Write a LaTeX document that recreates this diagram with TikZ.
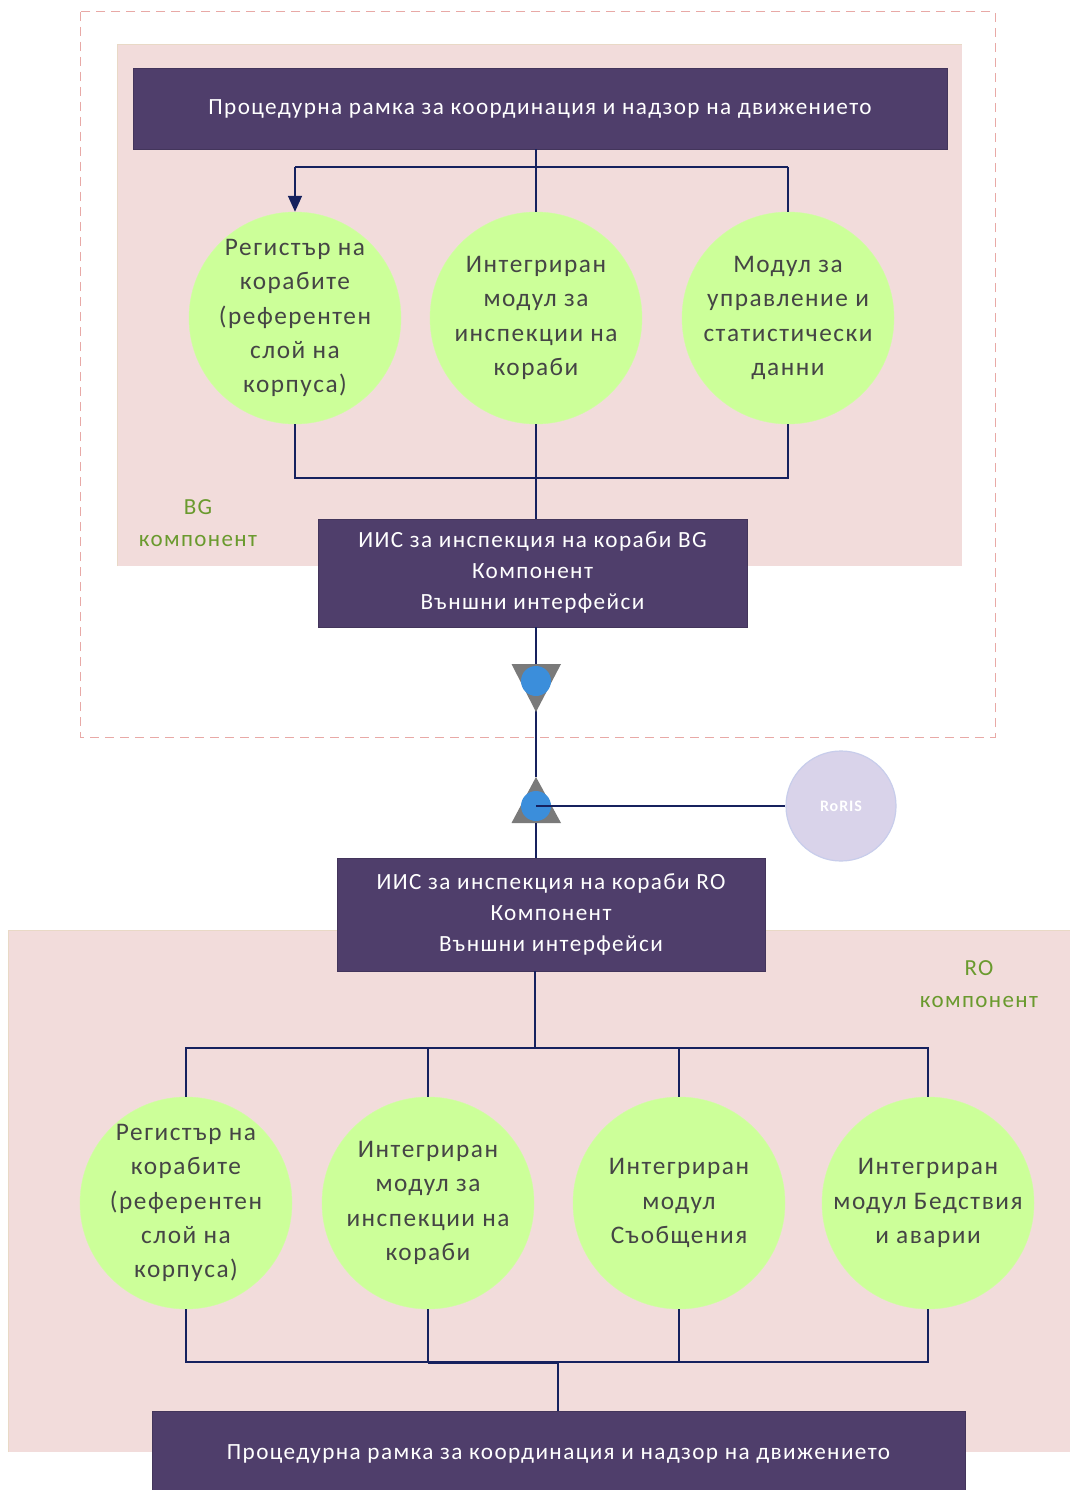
\documentclass[tikz,border=0pt]{standalone}
\usepackage{fontspec}
\setmainfont[LetterSpace=6]{Carlito}
\usetikzlibrary{arrows.meta}
\definecolor{barcol}{HTML}{4F3E6B}
\definecolor{pinkbg}{HTML}{F2DCDB}
\definecolor{pinkedge}{HTML}{E9D9C6}
\definecolor{greenc}{HTML}{CCFF99}
\definecolor{greentxt}{HTML}{6A9A2E}
\definecolor{linecol}{HTML}{16215E}
\definecolor{tricol}{HTML}{7A7A7A}
\definecolor{bluec}{HTML}{3B8EDB}
\definecolor{dashcol}{HTML}{E8A9A6}
\definecolor{lavc}{HTML}{D9D3EA}
\definecolor{lavedge}{HTML}{C8CDEB}
\definecolor{circtxt}{HTML}{454545}
\begin{document}
\begin{tikzpicture}[x=1pt,y=-1pt,
  bar/.style={fill=barcol,draw=barcol!85!black,line width=0.8pt,text=white,inner sep=0pt,font=\fontsize{23.2}{31}\selectfont,align=center},
  modc/.style={circle,fill=greenc,draw=greenc!90!white,minimum size=212pt,inner sep=-40pt,text=circtxt,align=center,font=\fontsize{25.3}{34.3}\selectfont},
  conn/.style={draw=linecol,line width=1.6pt},
  comp/.style={text=greentxt,align=center,font=\fontsize{23}{32}\selectfont},
  tri/.style={fill=tricol,draw=none},
  jn/.style={circle,fill=bluec,minimum size=30pt,inner sep=0pt}
]
\useasboundingbox (0,0) rectangle (1070,1490);
\fill[white] (0,0) rectangle (1070,1490);

% outer dashed frame (BG side)
\draw[dashcol,line width=1pt,dash pattern=on 9pt off 6pt] (80,12) rectangle (995,737);
% BG area
\fill[pinkbg] (117,45) rectangle (962,566);
\draw[pinkedge,line width=1pt] (117,566) -- (117,45) -- (962,45);
% RO area
\fill[pinkbg] (8,930) rectangle (1075,1452);
\draw[pinkedge,line width=1pt] (8,1452) -- (8,930) -- (1075,930);

% top bar
\node[bar,minimum width=814pt,minimum height=81pt] (topbar) at (540,108.5) {Процедурна рамка за координация и надзор на движението};

% BG circles
\node[modc] (b1) at (295,318) {Регистър на\\корабите\\(референтен\\слой на\\корпуса)};
\node[modc] (b2) at (536,318) {Интегриран\\модул за\\инспекции на\\кораби};
\node[modc] (b3) at (788,318) {Модул за\\управление и\\статистически\\данни};

% BG box
\node[bar,minimum width=429pt,minimum height=108pt] (bgbox) at (532.5,573) {ИИС за инспекция на кораби BG\\Компонент\\Външни интерфейси};

\node[comp] (bglab) at (198,523) {BG\\компонент};

% top connectors
\coordinate (ht) at (536,167);
\draw[conn,line width=2.6pt] (topbar.south -| b2.north) -- (ht);
\draw[conn] (b1.north |- ht) -- (b3.north |- ht);
\draw[conn,-{Triangle[width=14pt,length=16pt]}] (b1.north |- ht) -- (b1.north);
\draw[conn,line width=1.2pt] (ht) -- (b2.north);
\draw[conn,line width=1.2pt] (b3.north |- ht) -- (b3.north);

% BG bottom connectors
\coordinate (hb) at (536,478);
\draw[conn] (b1.south) -- (b1.south |- hb) -- (b3.south |- hb) -- (b3.south);
\draw[conn] (b2.south) -- (bgbox.north -| b2.south);

% interface triangles
\coordinate (t1c) at (536,681);
\coordinate (t2c) at (536,806);
\draw[conn] (bgbox.south -| t1c) -- (536,712);
\draw[conn] (536,712) -- (536,777);
\fill[tri] (511.5,664) -- (561,664) -- (536,712) -- cycle;
\node[jn] (j1) at (t1c) {};
\fill[tri] (536,777) -- (561,823) -- (511.5,823) -- cycle;
\node[jn] (j2) at (t2c) {};

% RoRIS circle
\node[circle,fill=lavc,draw=lavedge,line width=1.2pt,minimum size=110pt,inner sep=0pt,text=white,font=\fontsize{16}{18}\selectfont\bfseries] (roris) at (841,806) {RoRIS};
\draw[conn] (j2.center) -- (roris.west);

% RO box
\node[bar,minimum width=428pt,minimum height=113pt] (robox) at (551,914.5) {ИИС за инспекция на кораби RO\\Компонент\\Външни интерфейси};
\draw[conn] (536,823) -- (robox.north -| 536,0);

\node[comp] (rolab) at (979,984) {RO\\компонент};

% RO circles
\node[modc] (r1) at (186,1203) {Регистър на\\корабите\\(референтен\\слой на\\корпуса)};
\node[modc] (r2) at (428,1203) {Интегриран\\модул за\\инспекции на\\кораби};
\node[modc] (r3) at (679,1203) {Интегриран\\модул\\Съобщения};
\node[modc] (r4) at (928,1203) {Интегриран\\модул Бедствия\\и аварии};

% RO top connectors
\coordinate (hr) at (535,1048);
\draw[conn] (robox.south -| hr) -- (hr);
\draw[conn] (r1.north) -- (r1.north |- hr) -- (r4.north |- hr) -- (r4.north);
\draw[conn] (r2.north |- hr) -- (r2.north);
\draw[conn] (r3.north |- hr) -- (r3.north);

% bottom bar
\node[bar,minimum width=813pt,minimum height=86pt] (botbar) at (558.5,1454) {Процедурна рамка за координация и надзор на движението};

% RO bottom connectors
\coordinate (hl) at (428,1362);
\draw[conn] (r1.south) -- (r1.south |- hl) -- (hl) -- (r2.south);
\draw[conn] (hl) -- (r4.south |- hl) -- (r4.south);
\draw[conn] (r3.south) -- (r3.south |- hl);
\draw[conn,line width=2.4pt] (428,1362.5) -- (558,1362.5);
\draw[conn] (558,1362) -- (botbar.north -| 558,0);
\end{tikzpicture}
\end{document}
